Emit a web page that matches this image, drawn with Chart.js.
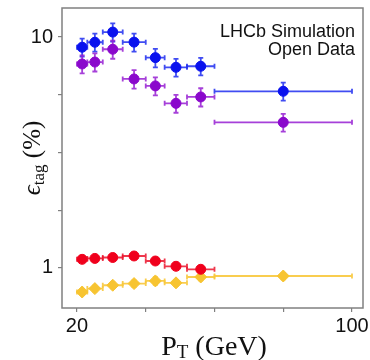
<!DOCTYPE html>
<html>
<head>
<meta charset="utf-8">
<script src="https://cdn.jsdelivr.net/npm/chart.js@4.4.0/dist/chart.umd.min.js"></script>
<style>
  html, body { margin: 0; padding: 0; background: #fff; }
</style>
</head>
<body>
<canvas id="grafico" width="370" height="360"></canvas>
<script>
// bins de PT (GeV)
const binLow    = [20, 23, 27.5, 33.3, 40, 45.5, 52, 60];
const binHigh   = [23, 27.5, 33.3, 40, 45.5, 52, 60, 100];
const binCenter = [21.5, 25.2, 30.4, 36.6, 42.8, 48.8, 56, 80];

// eficiencias (%) e erros
const blueEff   = [9.03, 9.49, 10.5, 9.5, 8.14, 7.39, 7.47, 5.82];
const blueErr   = [0.8, 0.85, 0.95, 0.85, 0.75, 0.65, 0.65, 0.52];
const purpleEff = [7.64, 7.79, 8.85, 6.58, 6.14, 5.16, 5.5, 4.27];
const purpleErr = [0.68, 0.7, 0.8, 0.6, 0.55, 0.46, 0.5, 0.38];
const redEff    = [1.09, 1.1, 1.11, 1.127, 1.072, 1.017, 0.987];
const redErr    = [0.02, 0.02, 0.02, 0.025, 0.02, 0.02, 0.02];
const yellowEff = [0.787, 0.814, 0.842, 0.856, 0.879, 0.862, 0.914, 0.923];
const yellowErr = [0.022, 0.024, 0.026, 0.027, 0.034, 0.027, 0.03, 0.03];

const xTicks = [20, 40, 60, 80, 100];
const yTicks = [1, 1.778, 3.162, 5.623, 10];
const xLabels = [20, 100];
const yLabels = [1, 10];

function pontos(eff, err) {
  return eff.map((v, i) => ({
    x: binCenter[i], y: v, err: err[i], xLo: binLow[i], xHi: binHigh[i]
  }));
}

// barras de erro desenhadas com as escalas do proprio chart
const barrasErro = {
  id: "barrasErro",
  beforeDatasetsDraw(chart) {
    const { ctx, scales: { x, y } } = chart;
    chart.data.datasets.forEach((ds) => {
      ctx.save();
      ctx.strokeStyle = ds.barColor;
      ctx.lineWidth = 1.8;
      ds.data.forEach((p) => {
        const px = x.getPixelForValue(p.x);
        const py = y.getPixelForValue(p.y);
        const xl = x.getPixelForValue(p.xLo);
        const xr = x.getPixelForValue(p.xHi);
        const yt = y.getPixelForValue(p.y + p.err);
        const yb = y.getPixelForValue(p.y - p.err);
        ctx.beginPath();
        ctx.moveTo(xl, py); ctx.lineTo(xr, py);
        ctx.moveTo(xl, py - 2.5); ctx.lineTo(xl, py + 2.5);
        ctx.moveTo(xr, py - 2.5); ctx.lineTo(xr, py + 2.5);
        ctx.moveTo(px, yt); ctx.lineTo(px, yb);
        ctx.moveTo(px - 2.5, yt); ctx.lineTo(px + 2.5, yt);
        ctx.moveTo(px - 2.5, yb); ctx.lineTo(px + 2.5, yb);
        ctx.stroke();
      });
      ctx.restore();
    });
  }
};

// texto com indice (subscrito)
function textoSub(ctx, partes, cx, base) {
  let w = 0;
  partes.forEach((p) => { ctx.font = p[1]; w += ctx.measureText(p[0]).width; });
  let xx = cx - w / 2;
  partes.forEach((p) => {
    ctx.font = p[1];
    ctx.fillText(p[0], xx, base + p[2]);
    xx += ctx.measureText(p[0]).width;
  });
}

const moldura = {
  id: "moldura",
  afterDraw(chart) {
    const { ctx, chartArea: a } = chart;
    ctx.save();
    ctx.strokeStyle = "#808080";
    ctx.lineWidth = 1.5;
    ctx.strokeRect(a.left, a.top, a.right - a.left, a.bottom - a.top);

    ctx.fillStyle = "#111";
    ctx.textAlign = "right";
    ctx.textBaseline = "alphabetic";
    ctx.font = "18px 'Liberation Sans', Arial, sans-serif";
    ctx.fillText("LHCb Simulation", 355, 37);
    ctx.fillText("Open Data", 355, 55);

    ctx.textAlign = "left";
    const serif = "'Liberation Serif', 'DejaVu Serif', serif";
    textoSub(ctx, [
      ["P", "28px " + serif, 0],
      ["T", "19px " + serif, 3],
      [" (GeV)", "28px " + serif, 0]
    ], 214, 355);

    ctx.translate(40, (a.top + a.bottom) / 2);
    ctx.rotate(-Math.PI / 2);
    textoSub(ctx, [
      ["\u03f5", "italic 25px " + serif, 0],
      ["tag", "17px " + serif, 4],
      [" (%)", "25px " + serif, 0]
    ], 0, 0);
    ctx.restore();
  }
};

const ctx = document.getElementById("grafico").getContext("2d");
const chart = new Chart(ctx, {
  type: "scatter",
  data: {
    datasets: [
      {
        label: "red",
        data: pontos(redEff, redErr),
        backgroundColor: "#f0001c",
        borderColor: "#f0001c",
        barColor: "rgba(235, 20, 45, 0.85)",
        pointStyle: "circle",
        pointRadius: 5,
      },
      {
        label: "blue",
        data: pontos(blueEff, blueErr),
        backgroundColor: "#0a12ee",
        borderColor: "#0a12ee",
        barColor: "rgba(30, 45, 240, 0.85)",
        pointStyle: "circle",
        pointRadius: 5,
      },
      {
        label: "purple",
        data: pontos(purpleEff, purpleErr),
        backgroundColor: "#8a08cc",
        borderColor: "#8a08cc",
        barColor: "rgba(150, 30, 210, 0.85)",
        pointStyle: "circle",
        pointRadius: 5,
      },
      {
        label: "yellow",
        data: pontos(yellowEff, yellowErr),
        backgroundColor: "#f7c431",
        borderColor: "#f7c431",
        barColor: "rgba(248, 200, 60, 0.9)",
        pointStyle: "rectRot",
        pointRadius: 6,
      },
    ],
  },
  options: {
    responsive: false,
    animation: false,
    layout: {
      autoPadding: false,
      padding: { top: 8, right: 7, left: 0, bottom: 0 },
    },
    plugins: {
      legend: { display: false },
      tooltip: { enabled: false },
    },
    scales: {
      x: {
        type: "linear",
        bounds: "data",
        min: 15.64,
        max: 103.2,
        afterBuildTicks: (s) => { s.ticks = xTicks.map((v) => ({ value: v })); },
        afterFit: (s) => { s.height = 52; s.paddingLeft = 0; s.paddingRight = 0; },
        border: { display: false },
        grid: { drawOnChartArea: false, drawTicks: true, tickLength: 4, color: "#808080", lineWidth: 1.2 },
        ticks: {
          autoSkip: false,
          maxRotation: 0,
          padding: 2,
          color: "#111",
          font: { family: "'Liberation Sans', Arial, sans-serif", size: 20 },
          callback: (v) => (xLabels.includes(v) ? String(v) : ""),
        },
      },
      y: {
        type: "logarithmic",
        bounds: "data",
        min: 0.671,
        max: 13.35,
        afterBuildTicks: (s) => { s.ticks = yTicks.map((v) => ({ value: v })); },
        afterFit: (s) => { s.width = 62; s.paddingTop = 0; s.paddingBottom = 0; },
        border: { display: false },
        grid: { drawOnChartArea: false, drawTicks: true, tickLength: 4, color: "#808080", lineWidth: 1.2 },
        ticks: {
          autoSkip: false,
          padding: 5,
          color: "#111",
          font: { family: "'Liberation Sans', Arial, sans-serif", size: 20 },
          callback: (v) => (yLabels.includes(v) ? String(v) : ""),
        },
      },
    },
  },
  plugins: [barrasErro, moldura],
});
</script>
</body>
</html>
